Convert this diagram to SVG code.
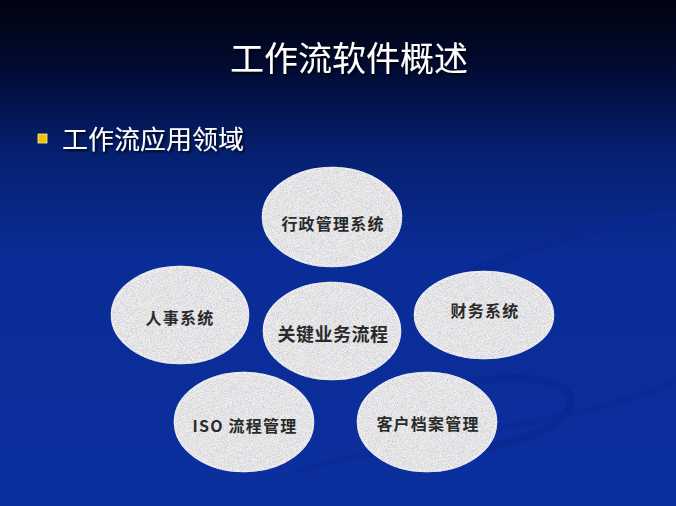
<svg xmlns="http://www.w3.org/2000/svg" width="676" height="506" viewBox="0 0 676 506">
<defs>
<linearGradient id="bg" x1="0" y1="0" x2="0" y2="1">
<stop offset="0" stop-color="#00030f"/>
<stop offset="0.12" stop-color="#010a2e"/>
<stop offset="0.3" stop-color="#05206f"/>
<stop offset="0.5" stop-color="#0a2c96"/>
<stop offset="1" stop-color="#0c2f9f"/>
</linearGradient>
<filter id="speck" x="-5%" y="-5%" width="110%" height="110%">
<feTurbulence type="fractalNoise" baseFrequency="1.2" numOctaves="2" seed="3" result="n"/>
<feColorMatrix in="n" type="matrix" values="0 0 0 0 0.6  0 0 0 0 0.6  0 0 0 0 0.63  0 0 0 -2.2 1.45" result="dots"/>
<feComposite in="dots" in2="SourceGraphic" operator="in" result="d2"/>
<feMerge><feMergeNode in="SourceGraphic"/><feMergeNode in="d2"/></feMerge>
</filter>
<filter id="shadow" x="-10%" y="-30%" width="120%" height="160%">
<feDropShadow dx="2" dy="2" stdDeviation="0.8" flood-color="#000" flood-opacity="0.8"/>
</filter>
</defs>
<style>
.node ellipse{fill:#f0f0f2;stroke:#f6f6f8;stroke-width:2.5;filter:url(#speck)}
.node text{font-family:"Noto Sans CJK SC","Noto Sans",sans-serif;font-weight:bold;font-size:16px;letter-spacing:1.2px;fill:#2a2a2a;text-anchor:middle;dominant-baseline:central}
.title{font-family:"Noto Sans CJK SC",sans-serif;fill:#ffffff;filter:url(#shadow)}
.swoosh{fill:none;stroke:#0a2890;stroke-linecap:round}
</style>
<rect width="676" height="506" fill="url(#bg)"/>
<g id="background-swooshes" opacity="0.8">
<path class="swoosh" d="M420 300 C500 250 620 220 676 215" stroke-width="10"/>
<path class="swoosh" d="M400 400 C520 360 600 380 560 420 C520 450 420 460 380 455" stroke-width="8" stroke="#0b2a92"/>
<path class="swoosh" d="M300 470 C450 430 600 420 676 380" stroke-width="6" stroke="#1a3cb0" opacity="0.6"/>
</g>
<text class="title" x="349" y="56" font-size="34" text-anchor="middle" dominant-baseline="central">工作流软件概述</text>
<rect x="38" y="134" width="9" height="9" fill="#f2c200" stroke="#fff3a0" stroke-width="0.8"/>
<text class="title" x="62" y="137" font-size="26" dominant-baseline="central">工作流应用领域</text>
<g id="node-admin" class="node"><ellipse cx="332" cy="217" rx="69" ry="49"/><text x="333" y="223">行政管理系统</text></g>
<g id="node-hr" class="node"><ellipse cx="180" cy="315" rx="68" ry="48"/><text x="180" y="317">人事系统</text></g>
<g id="node-core" class="node"><ellipse cx="332" cy="331" rx="68" ry="48"/><text x="333" y="333" style="font-size:18px;letter-spacing:0.5px">关键业务流程</text></g>
<g id="node-finance" class="node"><ellipse cx="484" cy="315" rx="69" ry="43"/><text x="485" y="310">财务系统</text></g>
<g id="node-iso" class="node"><ellipse cx="244" cy="422" rx="69" ry="49"/><text x="245" y="425">ISO 流程管理</text></g>
<g id="node-customer" class="node"><ellipse cx="427" cy="422" rx="69" ry="49"/><text x="428" y="423">客户档案管理</text></g>
<g id="connectors"></g>
</svg>
